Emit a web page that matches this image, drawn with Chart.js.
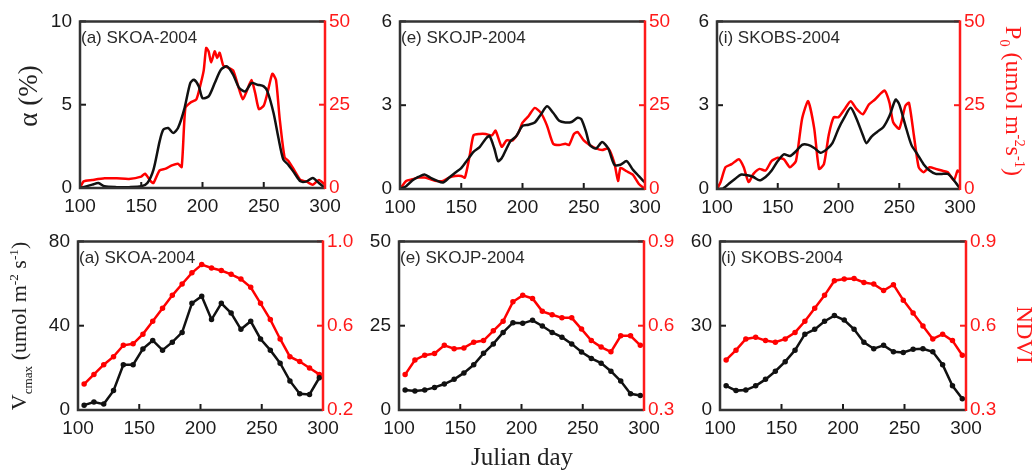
<!DOCTYPE html>
<html>
<head>
<meta charset="utf-8">
<script src="https://cdn.jsdelivr.net/npm/chart.js@4.4.0/dist/chart.umd.min.js"></script>
<style>
  body { margin: 0; background: #fff; width: 1035px; height: 473px; position: relative; overflow: hidden; }
  canvas { position: absolute; }
  .lbl { position: absolute; white-space: nowrap; font-family: "Liberation Serif", "Times New Roman", serif; transform: translate(-50%, -50%); }
  .lbl sub, .lbl sup { font-size: 60%; }
</style>
</head>
<body>
<canvas id="c1"></canvas>
<canvas id="c2"></canvas>
<canvas id="c3"></canvas>
<canvas id="c4"></canvas>
<canvas id="c5"></canvas>
<canvas id="c6"></canvas>

<div class="lbl" style="left:28px;top:96px;font-size:27px;color:#222;transform:translate(-50%,-50%) rotate(-90deg)">&alpha; (%)</div>
<div class="lbl" style="left:1012px;top:101px;font-size:24px;color:#ff1a1a;transform:translate(-50%,-50%) rotate(90deg)">P<sub>0</sub> (umol m<sup>-2</sup>s<sup>-1</sup>)</div>
<div class="lbl" style="left:21px;top:326px;font-size:22px;color:#222;transform:translate(-50%,-50%) rotate(-90deg)">V<sub>cmax</sub> (umol m<sup>-2</sup> s<sup>-1</sup>)</div>
<div class="lbl" style="left:1024px;top:335px;font-size:23px;color:#ff1a1a;transform:translate(-50%,-50%) rotate(90deg)">NDVI</div>
<div class="lbl" style="left:522px;top:457px;font-size:25px;color:#222">Julian day</div>

<script>
// ======= DATA =======
// top row: alpha (%) in black, P0 (umol m-2 s-1) in red
const daysA1 = [100,110,115,120,130,140,150,155,160,165,168,172,176,180,185,190,193,197,200,205,210,215,220,225,230,235,240,245,250,253,258,262,266,270,275,280,285,290,295,300];
const alphaA = [0,0.2,0.3,0.1,0.05,0.05,0.1,0.3,1.1,2.8,3.5,3.6,3.3,3.6,4.7,6.3,6.5,6.1,5.4,5.5,6.3,7.1,7.3,6.8,6.0,5.8,6.3,6.2,6.1,5.8,4.5,3.0,1.7,1.4,0.9,0.4,0.4,0.6,0.3,0];
const daysA2 = [100,103,110,120,130,140,150,153,158,160,165,170,175,180,183,186,190,195,198,201,203,205,207,210,212,214,217,220,225,230,233,236,240,243,246,250,253,257,260,263,267,270,275,280,285,290,295,300];
const p0A = [0,2,2.4,2.9,2.9,2.7,3.4,4.3,1.9,1.5,5.3,5.8,6.8,7.3,6.3,24,25.6,26.6,30.5,35.3,42,41,37.7,41,39,40.6,36.7,36.3,35.3,29.5,26.6,29,32.4,28.5,23.7,24.7,28.5,34.3,32.4,20.8,9.2,8.2,5.3,2.4,1.9,1.0,2.4,1];

const daysE1 = [100,105,110,115,120,125,130,135,140,145,150,155,160,165,170,173,177,180,183,187,190,195,200,205,210,215,220,225,230,235,240,245,248,252,255,260,265,270,275,280,285,290,295,300];
const alphaE = [0,0.1,0.3,0.43,0.52,0.4,0.3,0.23,0.4,0.58,0.75,1.04,1.33,1.5,1.8,1.9,1.45,1.0,1.1,1.45,1.7,1.9,2.26,2.3,2.38,2.67,2.96,2.73,2.44,2.38,2.4,2.55,2.5,2.03,1.57,1.45,1.68,1.45,0.87,0.87,1.0,0.7,0.46,0.23];
const daysE2 = [100,105,110,115,120,125,130,135,140,145,150,153,157,160,165,170,175,178,183,187,192,197,200,205,210,215,220,225,230,235,238,242,245,250,255,260,265,270,275,278,280,285,290,295,300];
const p0E = [0,2.4,2.9,3.4,3.4,2.9,2.4,2.4,3.4,3.9,3.9,3.4,10.2,16,16.4,16.4,16,17.4,12.6,14.5,14.5,17,19.8,21.8,24.2,22.7,18.9,13.5,13.1,13.5,13.1,16.4,17,14.5,13.1,12.1,11.6,12.1,7.7,2.4,6.3,5.3,4.3,1.5,0];

const daysI1 = [100,105,110,115,120,125,130,135,140,145,150,155,160,165,170,175,180,185,190,195,200,205,210,215,220,223,227,232,237,242,247,250,255,260,265,270,275,280,285,290,295,300];
const alphaI = [0,0.02,0.2,0.37,0.52,0.49,0.43,0.31,0.43,0.66,1.0,1.24,1.18,1.35,1.58,1.58,1.47,1.3,1.41,1.64,2.16,2.57,2.91,2.5,1.93,1.64,1.87,2.05,2.22,2.62,3.2,3.03,2.28,1.58,1.24,0.89,0.66,0.54,0.54,0.54,0.31,0.02];
const daysI2 = [100,103,107,112,118,122,126,130,135,140,145,150,155,160,165,170,175,180,184,188,192,196,200,205,210,215,220,225,230,235,238,242,245,250,255,258,262,266,270,275,280,285,290,295,298,300];
const p0I = [0,2.1,6.5,7.4,8.9,6.5,2.1,4.5,6,5.5,8.4,9.3,8.9,6.5,8.4,20.9,26.2,18.1,6,7.4,16.2,21.4,21.4,23.8,26.2,23.8,22.3,25.2,26.7,28.6,29.4,25.7,19.9,18,24.8,25.7,16.1,6.5,5,6.5,6,5.5,5,2.6,5.5,5];

// bottom row: 8-day composites, Vcmax in black, NDVI in red
const days8 = [105,113,121,129,137,145,153,161,169,177,185,193,201,209,217,225,233,241,249,257,265,273,281,289,297];
const vcmaxA = [2.3,3.8,2.8,9.2,21.5,21.5,29,33,28.4,32.2,36.8,50.6,54,42.9,50.6,46,38.3,42.1,33.7,28.4,22.2,13.8,7.7,7.4,15.3];
const ndviA = [0.323,0.369,0.415,0.453,0.507,0.514,0.56,0.621,0.683,0.744,0.798,0.851,0.89,0.874,0.862,0.844,0.821,0.782,0.706,0.629,0.537,0.453,0.43,0.399,0.369];
const vcmaxE = [5.9,5.6,5.9,6.7,7.7,9.1,11,13.4,16.8,19.6,23,25.9,25.7,26.6,24.9,23,21.6,19.6,17.2,15.3,13.9,11.5,8.6,4.8,4.3];
const ndviE = [0.426,0.478,0.495,0.501,0.53,0.518,0.521,0.541,0.547,0.582,0.616,0.685,0.708,0.697,0.651,0.639,0.628,0.628,0.588,0.547,0.524,0.507,0.564,0.564,0.53];
const vcmaxI = [8.6,6.9,7.1,8.6,10.9,13.8,17.2,21.3,27,28.7,31.6,33.6,32,28.7,24.1,21.8,23,20.7,20.5,21.6,21.8,20.7,16.1,8.6,4];
const ndviI = [0.478,0.513,0.553,0.559,0.547,0.541,0.553,0.576,0.616,0.662,0.708,0.76,0.766,0.768,0.754,0.748,0.725,0.746,0.691,0.645,0.599,0.553,0.57,0.547,0.495];

const xTicks = [100, 150, 200, 250, 300];

// ======= STYLE =======
const INK = "#1a1a1a";
const RED = "#ff1a1a";
const ML = 46, MR = 46, MT = 14, MB = 34;
const tickFont = { family: "'Liberation Sans', Arial, sans-serif", size: 19 };

const pts = (xs, ys) => xs.map((x, i) => ({ x, y: ys[i] }));

const panels = [
  { id: "c1", area: [80, 16, 325, 188], title: "(a) SKOA-2004", left: pts(daysA1, alphaA), right: pts(daysA2, p0A), yMax: 10, rMin: 0, rMax: 50, dec: 0, marks: false },
  { id: "c2", area: [400, 16, 645, 189], title: "(e) SKOJP-2004", left: pts(daysE1, alphaE), right: pts(daysE2, p0E), yMax: 6, rMin: 0, rMax: 50, dec: 0, marks: false },
  { id: "c3", area: [717, 16, 960, 189], title: "(i) SKOBS-2004", left: pts(daysI1, alphaI), right: pts(daysI2, p0I), yMax: 6, rMin: 0, rMax: 50, dec: 0, marks: false },
  { id: "c4", area: [78, 236, 323, 410], title: "(a) SKOA-2004", left: pts(days8, vcmaxA), right: pts(days8, ndviA), yMax: 80, rMin: 0.2, rMax: 1.0, dec: 1, marks: true },
  { id: "c5", area: [399, 236, 644, 410], title: "(e) SKOJP-2004", left: pts(days8, vcmaxE), right: pts(days8, ndviE), yMax: 50, rMin: 0.3, rMax: 0.9, dec: 1, marks: true },
  { id: "c6", area: [720, 236, 966, 410], title: "(i) SKOBS-2004", left: pts(days8, vcmaxI), right: pts(days8, ndviI), yMax: 60, rMin: 0.3, rMax: 0.9, dec: 1, marks: true },
];

// inward ticks, frame and the panel label
const framePlugin = {
  id: "frame",
  afterDatasetsDraw(chart) {
    const { ctx, chartArea: a, scales } = chart;
    const len = 6;
    ctx.save();
    ctx.lineWidth = 2;
    ctx.strokeStyle = INK;
    scales.x.ticks.forEach((t) => {
      const px = scales.x.getPixelForValue(t.value);
      ctx.beginPath(); ctx.moveTo(px, a.bottom); ctx.lineTo(px, a.bottom - len); ctx.stroke();
    });
    scales.y.ticks.forEach((t) => {
      const py = scales.y.getPixelForValue(t.value);
      ctx.beginPath(); ctx.moveTo(a.left, py); ctx.lineTo(a.left + len, py); ctx.stroke();
    });
    ctx.strokeStyle = RED;
    scales.y1.ticks.forEach((t) => {
      const py = scales.y1.getPixelForValue(t.value);
      ctx.beginPath(); ctx.moveTo(a.right, py); ctx.lineTo(a.right - len, py); ctx.stroke();
    });

    ctx.lineWidth = 2.5;
    ctx.strokeStyle = "#333";
    ctx.beginPath();
    ctx.moveTo(a.right, a.top); ctx.lineTo(a.left, a.top);
    ctx.lineTo(a.left, a.bottom); ctx.lineTo(a.right, a.bottom);
    ctx.stroke();
    ctx.strokeStyle = RED;
    ctx.beginPath(); ctx.moveTo(a.right, a.top - 1); ctx.lineTo(a.right, a.bottom + 1); ctx.stroke();

    ctx.fillStyle = "#2a2a2a";
    ctx.font = "17px 'Liberation Sans', Arial, sans-serif";
    ctx.textBaseline = "middle";
    ctx.fillText(chart.options.plugins.frame.title, a.left + 1, a.top + 17);
    ctx.restore();
  },
};

panels.forEach((p) => {
  const [l, t, r, b] = p.area;
  const cv = document.getElementById(p.id);
  cv.width = r - l + ML + MR;
  cv.height = b - t + MT + MB;
  cv.style.left = l - ML + "px";
  cv.style.top = t - MT + "px";

  const fmt = (v) => (p.dec ? Number(v).toFixed(p.dec) : String(Math.round(v)));

  new Chart(cv, {
    type: "line",
    data: {
      datasets: [
        {
          data: p.left, yAxisID: "y", borderColor: "#111", backgroundColor: "#111",
          borderWidth: 2.5, pointRadius: p.marks ? 1.5 : 0, tension: p.marks ? 0 : 0.25,
        },
        {
          data: p.right, yAxisID: "y1", borderColor: "#ff0000", backgroundColor: "#ff0000",
          borderWidth: 2.5, pointRadius: p.marks ? 1.5 : 0, tension: p.marks ? 0 : 0.2,
        },
      ],
    },
    options: {
      responsive: false,
      animation: false,
      layout: { padding: { top: MT, left: 0, right: 0, bottom: 0 } },
      plugins: { legend: { display: false }, tooltip: { enabled: false }, frame: { title: p.title } },
      scales: {
        x: {
          type: "linear", min: 100, max: 300,
          afterBuildTicks: (s) => { s.ticks = xTicks.map((v) => ({ value: v })); },
          afterFit: (s) => { s.height = MB; },
          grid: { display: false, drawTicks: false }, border: { display: false },
          ticks: { color: INK, font: tickFont, padding: 7, maxRotation: 0 },
        },
        y: {
          position: "left", min: 0, max: p.yMax,
          ticks: { stepSize: p.yMax / 2, color: INK, font: tickFont, padding: 8 },
          afterFit: (s) => { s.width = ML; },
          grid: { display: false, drawTicks: false }, border: { display: false },
        },
        y1: {
          position: "right", min: p.rMin, max: p.rMax,
          ticks: { stepSize: (p.rMax - p.rMin) / 2, color: RED, font: tickFont, padding: 4, callback: fmt },
          afterFit: (s) => { s.width = MR; },
          grid: { display: false, drawTicks: false }, border: { display: false },
        },
      },
    },
    plugins: [framePlugin],
  });
});
</script>
</body>
</html>
